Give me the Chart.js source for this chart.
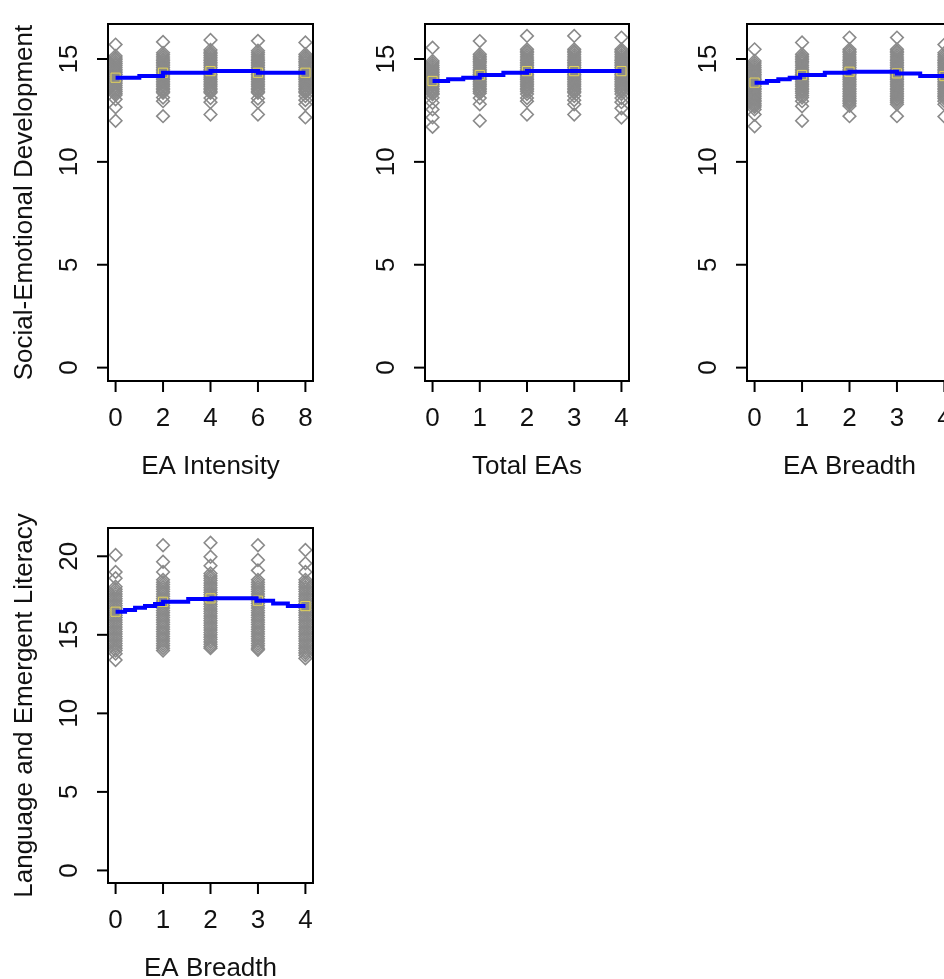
<!DOCTYPE html>
<html>
<head>
<meta charset="utf-8">
<script src="https://cdn.jsdelivr.net/npm/chart.js@4.4.0/dist/chart.umd.min.js"></script>
<style>
html, body { margin: 0; padding: 0; background: #fff; overflow: hidden; }
#wrap { position: relative; width: 944px; height: 979px; overflow: hidden; }
canvas { position: absolute; }
</style>
</head>
<body>
<div id="wrap">
  <canvas id="p1" width="330" height="490" style="left:0;top:0"></canvas>
  <canvas id="p2" width="315" height="490" style="left:330px;top:0"></canvas>
  <canvas id="p3" width="330" height="490" style="left:645px;top:0"></canvas>
  <canvas id="p4" width="330" height="489" style="left:0;top:490px"></canvas>
</div>
<script>
// panel 1: Social-Emotional Development ~ EA Intensity
const intensityX = [0, 2, 4, 6, 8];
const seIntensityPts = [
    [15.7, 15.15, 15.05, 14.96, 14.87, 14.78, 14.7, 14.6, 14.5, 14.42, 14.33, 14.25, 14.15, 14.05, 13.96, 13.88, 13.8, 13.7, 13.6, 13.5, 13.42, 13.33, 13.25, 13.04, 12.65, 12.0],
    [15.83, 15.3, 15.2, 15.1, 15.0, 14.92, 14.83, 14.75, 14.67, 14.58, 14.5, 14.42, 14.33, 14.25, 14.17, 14.08, 14.0, 13.92, 13.83, 13.75, 13.67, 13.58, 13.5, 13.42, 13.36, 13.13, 12.95, 12.22],
    [15.92, 15.44, 15.33, 15.25, 15.17, 15.08, 15.0, 14.92, 14.83, 14.75, 14.67, 14.58, 14.5, 14.42, 14.33, 14.25, 14.17, 14.08, 14.0, 13.92, 13.83, 13.75, 13.67, 13.58, 13.5, 13.42, 13.36, 13.1, 12.9, 12.3],
    [15.88, 15.4, 15.3, 15.2, 15.1, 15.0, 14.92, 14.83, 14.75, 14.67, 14.58, 14.5, 14.42, 14.33, 14.25, 14.17, 14.08, 14.0, 13.92, 13.83, 13.75, 13.67, 13.58, 13.5, 13.42, 13.36, 13.08, 12.9, 12.3],
    [15.8, 15.23, 15.13, 15.05, 14.96, 14.88, 14.8, 14.7, 14.6, 14.5, 14.42, 14.33, 14.25, 14.17, 14.08, 14.0, 13.92, 13.83, 13.75, 13.67, 13.58, 13.5, 13.42, 13.36, 13.2, 13.0, 12.8, 12.16]
];
const seIntensityFitX = [0, 1, 2, 4, 6, 8];
const seIntensityFitY = [14.09, 14.17, 14.33, 14.41, 14.33, 14.33];
const seIntensityMean = [14.09, 14.33, 14.41, 14.33, 14.33];

// panel 2: Social-Emotional Development ~ Total EAs
const countX = [0, 1, 2, 3, 4];
const seTotalPts = [
    [15.55, 14.9, 14.8, 14.7, 14.6, 14.5, 14.42, 14.33, 14.25, 14.17, 14.08, 14.0, 13.92, 13.83, 13.75, 13.67, 13.58, 13.5, 13.42, 13.33, 13.28, 13.12, 12.87, 12.55, 12.16, 11.7],
    [15.87, 15.23, 15.13, 15.05, 14.96, 14.88, 14.8, 14.7, 14.6, 14.5, 14.42, 14.33, 14.25, 14.17, 14.08, 14.0, 13.92, 13.83, 13.75, 13.67, 13.58, 13.5, 13.42, 13.33, 13.1, 12.8, 12.0],
    [16.12, 15.47, 15.38, 15.3, 15.2, 15.1, 15.0, 14.92, 14.83, 14.75, 14.67, 14.58, 14.5, 14.42, 14.33, 14.25, 14.17, 14.08, 14.0, 13.92, 13.83, 13.75, 13.67, 13.58, 13.5, 13.42, 13.3, 13.1, 12.95, 12.3],
    [16.12, 15.47, 15.38, 15.3, 15.2, 15.1, 15.0, 14.92, 14.83, 14.75, 14.67, 14.58, 14.5, 14.42, 14.33, 14.25, 14.17, 14.08, 14.0, 13.92, 13.83, 13.75, 13.67, 13.58, 13.5, 13.42, 13.36, 13.2, 13.0, 12.8, 12.3],
    [16.04, 15.47, 15.38, 15.3, 15.2, 15.1, 15.0, 14.92, 14.83, 14.75, 14.67, 14.58, 14.5, 14.42, 14.33, 14.25, 14.17, 14.08, 14.0, 13.92, 13.83, 13.75, 13.67, 13.58, 13.5, 13.42, 13.3, 13.1, 12.9, 12.6, 12.15]
];
const seTotalFitX = [0, 0.33, 0.65, 1.0, 1.5, 2.0, 4];
const seTotalFitY = [13.93, 14.01, 14.09, 14.22, 14.33, 14.41, 14.41];
const seTotalMean = [13.93, 14.22, 14.41, 14.41, 14.41];

// panel 3: Social-Emotional Development ~ EA Breadth
const seBreadthPts = [
    [15.47, 14.9, 14.8, 14.7, 14.6, 14.5, 14.42, 14.33, 14.25, 14.17, 14.08, 14.0, 13.92, 13.83, 13.75, 13.67, 13.58, 13.5, 13.42, 13.33, 13.25, 13.17, 13.08, 13.0, 12.92, 12.83, 12.75, 12.67, 12.55, 12.3, 11.73],
    [15.8, 15.23, 15.13, 15.05, 14.96, 14.88, 14.8, 14.7, 14.6, 14.5, 14.42, 14.33, 14.25, 14.17, 14.08, 14.0, 13.92, 13.83, 13.75, 13.67, 13.58, 13.5, 13.42, 13.33, 13.22, 13.13, 12.95, 12.7, 12.0],
    [16.04, 15.47, 15.38, 15.3, 15.2, 15.1, 15.0, 14.92, 14.83, 14.75, 14.67, 14.58, 14.5, 14.42, 14.33, 14.25, 14.17, 14.08, 14.0, 13.92, 13.83, 13.75, 13.67, 13.58, 13.5, 13.42, 13.33, 13.25, 13.17, 13.08, 13.0, 12.92, 12.83, 12.72, 12.22],
    [16.04, 15.47, 15.38, 15.3, 15.2, 15.1, 15.0, 14.92, 14.83, 14.75, 14.67, 14.58, 14.5, 14.42, 14.33, 14.25, 14.17, 14.08, 14.0, 13.92, 13.83, 13.75, 13.67, 13.58, 13.5, 13.42, 13.33, 13.25, 13.17, 13.08, 13.0, 12.9, 12.8, 12.22],
    [15.7, 15.3, 15.2, 15.1, 15.0, 14.92, 14.83, 14.75, 14.67, 14.58, 14.5, 14.42, 14.33, 14.25, 14.17, 14.08, 14.0, 13.92, 13.83, 13.75, 13.67, 13.58, 13.5, 13.42, 13.33, 13.25, 13.17, 13.08, 12.95, 12.8, 12.2]
];
const seBreadthFitX = [0, 0.26, 0.5, 0.74, 0.96, 1.48, 2.0, 3.0, 3.49, 4];
const seBreadthFitY = [13.85, 13.93, 14.01, 14.09, 14.22, 14.33, 14.38, 14.3, 14.17, 14.17];
const seBreadthMean = [13.85, 14.22, 14.38, 14.3, 14.17];

// panel 4: Language and Emergent Literacy ~ EA Breadth
const litBreadthPts = [
    [20.08, 19.0, 18.6, 18.06, 17.9, 17.75, 17.6, 17.45, 17.3, 17.15, 17.0, 16.85, 16.7, 16.55, 16.4, 16.25, 16.1, 15.95, 15.8, 15.65, 15.5, 15.35, 15.2, 15.05, 14.9, 14.75, 14.6, 14.45, 14.3, 14.15, 14.0, 13.8, 13.4],
    [20.7, 19.65, 19.0, 18.5, 18.35, 18.2, 18.05, 17.9, 17.75, 17.6, 17.45, 17.3, 17.15, 17.0, 16.85, 16.7, 16.55, 16.4, 16.25, 16.1, 15.95, 15.8, 15.65, 15.5, 15.35, 15.2, 15.05, 14.9, 14.75, 14.6, 14.45, 14.3, 14.15, 14.0],
    [20.86, 19.97, 19.4, 18.9, 18.75, 18.6, 18.45, 18.3, 18.15, 18.0, 17.85, 17.7, 17.55, 17.4, 17.25, 17.1, 16.95, 16.8, 16.65, 16.5, 16.35, 16.2, 16.05, 15.9, 15.75, 15.6, 15.45, 15.3, 15.15, 15.0, 14.85, 14.7, 14.55, 14.4, 14.25, 14.15],
    [20.7, 19.76, 19.1, 18.5, 18.35, 18.2, 18.05, 17.9, 17.75, 17.6, 17.45, 17.3, 17.15, 17.0, 16.85, 16.7, 16.55, 16.4, 16.25, 16.1, 15.95, 15.8, 15.65, 15.5, 15.35, 15.2, 15.05, 14.9, 14.75, 14.6, 14.45, 14.3, 14.15, 14.05],
    [20.4, 19.55, 19.0, 18.5, 18.35, 18.2, 18.05, 17.9, 17.75, 17.6, 17.45, 17.3, 17.15, 17.0, 16.85, 16.7, 16.55, 16.4, 16.25, 16.1, 15.95, 15.8, 15.65, 15.5, 15.35, 15.2, 15.05, 14.9, 14.75, 14.6, 14.45, 14.3, 14.15, 14.0, 13.85, 13.7, 13.5]
];
const litBreadthFitX = [0, 0.2, 0.41, 0.62, 0.83, 1.0, 1.53, 2.02, 2.97, 3.32, 3.63, 4];
const litBreadthFitY = [16.47, 16.58, 16.72, 16.83, 16.96, 17.1, 17.28, 17.32, 17.17, 17.0, 16.83, 16.83];
const litBreadthMean = [16.47, 17.1, 17.32, 17.17, 16.83];

const seTicks = [0, 5, 10, 15];
const litTicks = [0, 5, 10, 15, 20];

const FONT = '26px "Liberation Sans", Arial, sans-serif';

// R-style box, ticks and labels drawn off the chart's scales
const rAxes = {
    id: 'rAxes',
    afterDraw(chart, args, opts) {
        const { ctx, chartArea: a, scales: { x, y } } = chart;
        ctx.save();
        ctx.strokeStyle = '#000';
        ctx.lineWidth = 2;
        ctx.strokeRect(a.left, a.top, a.right - a.left, a.bottom - a.top);
        ctx.fillStyle = '#111';
        ctx.font = FONT;
        ctx.textAlign = 'center';
        ctx.textBaseline = 'middle';
        opts.xTicks.forEach(v => {
            const px = x.getPixelForValue(v);
            ctx.beginPath();
            ctx.moveTo(px, a.bottom);
            ctx.lineTo(px, a.bottom + 11);
            ctx.stroke();
            ctx.fillText(String(v), px, a.bottom + 38);
        });
        opts.yTicks.forEach(v => {
            const py = y.getPixelForValue(v);
            ctx.beginPath();
            ctx.moveTo(a.left, py);
            ctx.lineTo(a.left - 11, py);
            ctx.stroke();
            ctx.save();
            ctx.translate(a.left - 38, py);
            ctx.rotate(-Math.PI / 2);
            ctx.fillText(String(v), 0, 0);
            ctx.restore();
        });
        ctx.fillText(opts.xTitle, (a.left + a.right) / 2, a.bottom + 86);
        if (opts.yTitle) {
            ctx.save();
            ctx.translate(a.left - 83, (a.top + a.bottom) / 2);
            ctx.rotate(-Math.PI / 2);
            ctx.fillText(opts.yTitle, 0, 0);
            ctx.restore();
        }
        ctx.restore();
    }
};

function makePanel(id, cols, pts, fitX, fitY, means, xr, yr, yTicks, pad, xTitle, yTitle) {
    const scatter = [];
    cols.forEach((cx, i) => pts[i].forEach(v => scatter.push({ x: cx, y: v })));
    const fit = fitX.map((fx, i) => ({ x: fx, y: fitY[i] }));
    const meanPts = cols.map((cx, i) => ({ x: cx, y: means[i] }));

    new Chart(document.getElementById(id), {
        type: 'scatter',
        data: {
            datasets: [
                {
                    type: 'line',
                    data: fit,
                    stepped: true,
                    borderColor: '#0000ff',
                    borderWidth: 4,
                    pointRadius: 0,
                    fill: false,
                    order: 0
                },
                {
                    data: meanPts,
                    pointStyle: 'rect',
                    pointRadius: 6.5,
                    borderColor: '#e3d35a',
                    borderWidth: 1,
                    backgroundColor: 'rgba(0,0,0,0)',
                    order: 1
                },
                {
                    data: scatter,
                    pointStyle: 'rectRot',
                    pointRadius: 6.3,
                    borderColor: '#8a8a8a',
                    borderWidth: 1.6,
                    backgroundColor: 'rgba(0,0,0,0)',
                    order: 2
                }
            ]
        },
        options: {
            responsive: false,
            animation: false,
            events: [],
            layout: { padding: pad },
            scales: {
                x: { type: 'linear', display: false, min: xr[0], max: xr[1] },
                y: { type: 'linear', display: false, min: yr[0], max: yr[1] }
            },
            plugins: {
                legend: { display: false },
                tooltip: { enabled: false },
                rAxes: { xTicks: cols, yTicks: yTicks, xTitle: xTitle, yTitle: yTitle }
            }
        },
        plugins: [rAxes]
    });
}

makePanel('p1', intensityX, seIntensityPts, seIntensityFitX, seIntensityFitY, seIntensityMean,
    [-0.32, 8.32], [-0.65, 16.7], seTicks, { left: 108, top: 24, right: 17, bottom: 109 },
    'EA Intensity', 'Social-Emotional Development');
makePanel('p2', countX, seTotalPts, seTotalFitX, seTotalFitY, seTotalMean,
    [-0.16, 4.16], [-0.65, 16.7], seTicks, { left: 95, top: 24, right: 16, bottom: 109 },
    'Total EAs', '');
makePanel('p3', countX, seBreadthPts, seBreadthFitX, seBreadthFitY, seBreadthMean,
    [-0.16, 4.16], [-0.65, 16.7], seTicks, { left: 102, top: 24, right: 23, bottom: 109 },
    'EA Breadth', '');
makePanel('p4', countX, litBreadthPts, litBreadthFitX, litBreadthFitY, litBreadthMean,
    [-0.16, 4.16], [-0.8, 21.8], litTicks, { left: 108, top: 38, right: 17, bottom: 96 },
    'EA Breadth', 'Language and Emergent Literacy');
</script>
</body>
</html>
